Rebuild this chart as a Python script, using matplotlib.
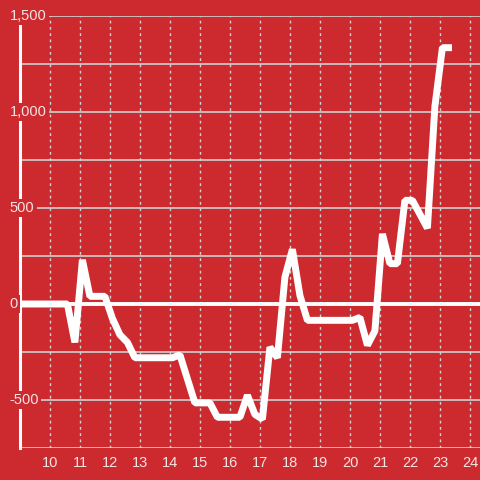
import matplotlib
matplotlib.use('Agg')
import matplotlib.pyplot as plt

# hours of the day and values
hours = [9.0, 10.58, 10.83, 11.08, 11.33, 11.83, 12.08, 12.33, 12.58, 12.83,
         14.08, 14.33, 14.83, 15.33, 15.58, 16.33, 16.58, 16.83, 17.08, 17.33,
         17.58, 17.83, 18.08, 18.33, 18.58, 20.08, 20.33, 20.58, 20.83, 21.08,
         21.33, 21.58, 21.83, 22.08, 22.58, 22.83, 23.08, 23.4]
values = [0, 0, -200, 230, 40, 40, -75, -160, -200, -280,
          -280, -265, -515, -515, -590, -590, -475, -575, -600, -225,
          -280, 140, 285, 45, -85, -85, -70, -215, -140, 365,
          210, 210, 540, 540, 395, 1030, 1335, 1335]

x_ticks = list(range(10, 25))
y_grid = [-750, -500, -250, 0, 250, 500, 750, 1000, 1250, 1500]
y_labels = {1500: '1,500', 1000: '1,000', 500: '500', 0: '0', -500: '-500'}

bg = '#cc2a2f'
grid_c = '#d2d2d2'
txt_c = '#f4e4e4'

plt.rcParams['font.family'] = ['Liberation Sans', 'DejaVu Sans']

fig = plt.figure(figsize=(4.8, 4.8), dpi=100, facecolor=bg)
ax = fig.add_axes([20 / 480, 32 / 480, 460 / 480, 432 / 480])
ax.set_facecolor(bg)
ax.set_xlim(9, 24.333)
ax.set_ylim(-750, 1500)

# horizontal grid
for v in y_grid:
    if v == 0:
        continue
    ax.axhline(v, color=grid_c, lw=1.2, zorder=1)
# vertical dashed grid
for t in x_ticks:
    ax.axvline(t, color=grid_c, lw=1.0, ls=(0, (2, 2.5)), zorder=1)

# zero line
ax.axhline(0, xmin=-0.007, color='white', lw=2.8, zorder=2, clip_on=False)

ax.plot(hours, values, color='white', lw=5, solid_joinstyle='bevel',
        solid_capstyle='butt', zorder=4, clip_on=False)

for s in ['top', 'right', 'bottom']:
    ax.spines[s].set_visible(False)
ax.spines['left'].set_color('white')
ax.spines['left'].set_linewidth(2.2)
ax.spines['left'].set_zorder(3)

ax.set_yticks([])
ax.set_xticks(x_ticks)
ax.set_xticklabels([str(t) for t in x_ticks])
ax.tick_params(axis='x', length=0, pad=6, labelsize=10.5, labelcolor=txt_c)

for v, lab in y_labels.items():
    ax.text(8.66, v, lab, ha='left', va='center', fontsize=10.5, color=txt_c,
            zorder=6, clip_on=False,
            bbox=dict(boxstyle='square,pad=0.15', fc=bg, ec='none'))

fig.savefig('out.png', dpi=100, facecolor=bg)
